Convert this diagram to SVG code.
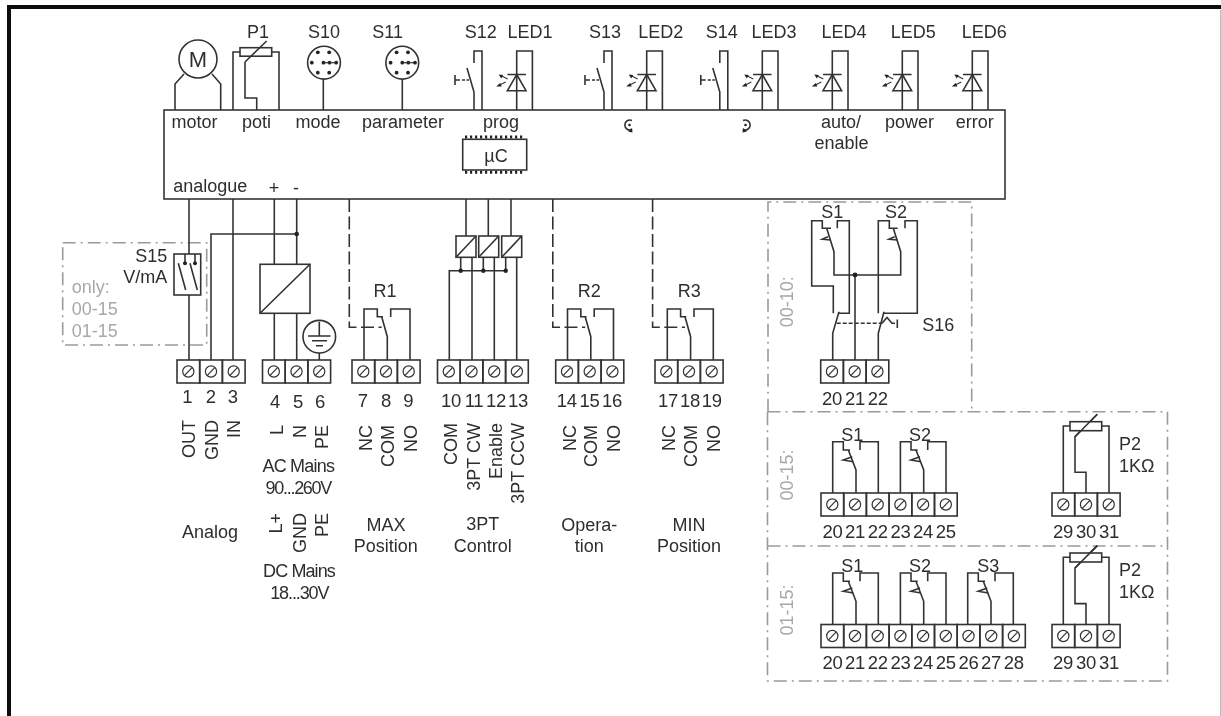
<svg xmlns="http://www.w3.org/2000/svg" width="1221" height="716" viewBox="0 0 1221 716">
<style>
text{font-family:"Liberation Sans",Arial,sans-serif;font-size:18px;fill:#2e2e2e}
.m{text-anchor:middle}
.e{text-anchor:end}
.g{fill:#a8a8a8}
.n{text-anchor:middle;font-size:18.5px;letter-spacing:-.3px}
.w,.w path,.w line,.w rect,.w circle{fill:none;stroke:#333;stroke-width:1.6}
.dd{fill:none;stroke:#9a9a9a;stroke-width:1.6;stroke-dasharray:13 5 2 5}
.ld{fill:none;stroke:#333;stroke-width:1.6;stroke-dasharray:13 4.5}
.sd{fill:none;stroke:#333;stroke-width:1.4;stroke-dasharray:4 2}
.dot{fill:#222;stroke:none}
</style>
<defs>
<filter id="soft" filterUnits="userSpaceOnUse" x="0" y="0" width="1221" height="716"><feGaussianBlur stdDeviation="0.5"/></filter>
<g id="c" class="w"><rect width="22.7" height="23"/><circle cx="11.3" cy="11.5" r="5.6" style="stroke-width:1.2"/><line x1="7.6" y1="15.4" x2="15" y2="7.6" style="stroke-width:1.2"/></g>
<g id="t3"><use href="#c"/><use href="#c" x="22.7"/><use href="#c" x="45.4"/></g>
<g id="t6"><use href="#t3"/><use href="#t3" x="68.1"/></g>
<g id="led" class="w"><path d="M0 110V51H15.7V110"/><path d="M-9.3 74.5H9.3M0 74.5L9.3 90.7H-9.3Z"/><path d="M-9 79L-15 76M-11 82L-17 85" style="stroke-width:1.1"/><path class="dot" d="M-18 74.5L-13.5 75L-15.5 78.5ZM-20.5 86.5L-16.5 83L-15 86.5Z" style="fill:#222;stroke:none"/></g>
<g id="sw" class="w"><path d="M0 110V92L-7 68M8 110V51H0V63"/><path class="sd" d="M-12 80H-5" style="stroke-dasharray:3 1.5"/><path d="M-19 75V85M-19 80H-14"/></g>
<g id="conn" class="w"><circle cx="0" cy="0" r="16.4"/></g>
<g id="pins"><circle r="1.9" cx="-5.7" cy="-10.4" class="dot"/><circle r="1.9" cx="5.7" cy="-10.4" class="dot"/><circle r="1.9" cx="-11.7" class="dot"/><circle r="1.9" class="dot"/><circle r="1.9" cx="6" class="dot"/><circle r="1.9" cx="12.7" class="dot"/><circle r="1.9" cx="-5.7" cy="10" class="dot"/><circle r="1.9" cx="5.7" cy="10" class="dot"/><path d="M0 0H12" stroke="#333" stroke-width="1.2"/></g>
<g id="relay"><path class="ld" d="M349.3 199V327.3H381.7"/><g class="w"><path d="M364 360V309H377.3V316.7H383M381.7 316.7L387.3 336.7V360M410 360V309H390.7V317"/></g></g>
<g id="th" class="w"><path d="M0 493V441.7H10.6V450H17.3M15.6 450L23.3 470V493M27.3 450V441.7H45.6V493"/><path d="M19.6 456.7L10.6 460L20.6 461.7"/></g>
<g id="pot" class="w"><path d="M0 493V426H6.7M45.7 493V426H38.4M22.7 493V472.3H11.7V436.7L34 414.3"/><rect x="6.7" y="421.7" width="31.7" height="9" style="fill:#fff"/><path d="M11.7 436.7L34 414.3"/></g>
</defs>
<rect width="1221" height="716" fill="#fff"/>
<g filter="url(#soft)">
<g id="frame"><path d="M9 716V7H1221" fill="none" stroke="#111" stroke-width="4"/><path d="M1220.5 10V716" fill="none" stroke="#bbb" stroke-width="1"/></g>

<g id="groups">
<rect class="dd" x="62.7" y="242.7" width="144" height="102.3"/>
<path class="dd" d="M768 411.7V202H971.7V411.7"/>
<path class="dd" d="M767.5 411.7H1167.5V681H767.5V411.7"/>
<path class="dd" d="M767.5 546H1167.5"/>
<g class="g"><text class="g" x="71.7" y="293">only:</text><text class="g" x="71.7" y="315">00-15</text><text class="g" x="71.7" y="337">01-15</text>
<text class="g m" transform="translate(793.3,301.7) rotate(-90)">00-10:</text>
<text class="g m" transform="translate(793.3,475) rotate(-90)">00-15:</text>
<text class="g m" transform="translate(793.3,610) rotate(-90)">01-15:</text></g>
</g>

<g id="connectors" class="w">
<path d="M189 199V254M189 295V360M211 360V234H296.7M233 199V360M274.3 199V264.3M296.7 199V264.3M274.3 313.3V360M296.7 313.3V360M319.3 353V360"/>
<path d="M466 199V236M488.3 199V236M511 199V236M460.7 257.3V270.7M483.3 257.3V270.7M505.7 257.3V270.7M449.3 360V270.7H505.7M472 257.3V360M494.3 257.3V360M516.7 257.3V360"/>
<path d="M855 275V360"/>
</g>
<circle class="dot" cx="296.7" cy="234" r="2.3"/>
<circle class="dot" cx="460.7" cy="270.7" r="2.2"/><circle class="dot" cx="483.3" cy="270.7" r="2.2"/><circle class="dot" cx="505.7" cy="270.7" r="2.2"/>

<g id="main"><rect class="w" x="164" y="110" width="841" height="89"/>
<text class="m" x="194.5" y="128">motor</text><text class="m" x="256.5" y="128">poti</text><text class="m" x="318" y="128">mode</text><text class="m" x="403" y="128">parameter</text><text class="m" x="501" y="128">prog</text>
<text class="m" x="841" y="128">auto/</text><text class="m" x="841.5" y="149">enable</text><text class="m" x="909.5" y="128">power</text><text class="m" x="974.8" y="128">error</text>
<text x="173.3" y="191.5">analogue</text><text class="m" x="274" y="194">+</text><text class="m" x="296" y="194">-</text>
<g id="ccw"><path class="w" d="M632 120.5A5 5 0 1 0 632 129.5" style="fill:none"/><circle class="dot" cx="629.5" cy="125" r="1.3"/><path class="dot" d="M628 131.5L632 128L632.5 132.5Z"/></g>
<g id="cw"><path class="w" d="M743 120.5A5 5 0 1 1 743 129.5" style="fill:none"/><circle class="dot" cx="745.5" cy="125" r="1.3"/><path class="dot" d="M747 131.5L743 128L742.5 132.5Z"/></g>
</g>
<g id="uc"><rect class="w" x="462.7" y="139.3" width="64" height="30.7"/><path d="M465 137H525M465 172.3H525" fill="none" stroke="#222" stroke-width="3" stroke-dasharray="2.2 2.8"/><text class="m" x="496" y="162">µC</text></g>

<g id="motor"><circle class="w" cx="198" cy="59" r="19"/><path class="w" d="M175 110V84L184 74M220.7 110V84L212 74"/><text class="m" x="198" y="67" style="font-size:22px">M</text></g>
<g id="P1" class="w"><path d="M233 110V52H240M279 110V52H271.7M256.7 110V98H245V62"/><rect x="240" y="47.7" width="31.7" height="8.5"/><path d="M245 62L266.7 41"/></g><text class="m" x="258" y="37.6">P1</text>
<g id="S10"><use href="#conn" x="324" y="62.7"/><path class="w" d="M323.3 79V110"/><use href="#pins" x="323.5" y="62.7"/><text class="m" x="324" y="37.6">S10</text></g>
<g id="S11"><use href="#conn" x="402.3" y="62.7"/><path class="w" d="M402.3 79V110"/><use href="#pins" x="402.3" y="62.7"/><text class="m" x="387.7" y="37.6">S11</text></g>
<g id="S12"><use href="#sw" x="474"/><text class="m" x="480.7" y="37.6">S12</text></g>
<g id="LED1"><use href="#led" x="516.7"/><text class="m" x="530" y="37.6">LED1</text></g>
<g id="S13"><use href="#sw" x="604"/><text class="m" x="605" y="37.6">S13</text></g>
<g id="LED2"><use href="#led" x="646.7"/><text class="m" x="660.7" y="37.6">LED2</text></g>
<g id="S14"><use href="#sw" x="719.8"/><text class="m" x="721.7" y="37.6">S14</text></g>
<g id="LED3"><use href="#led" x="762.3"/><text class="m" x="774" y="37.6">LED3</text></g>
<g id="LED4"><use href="#led" x="832.3"/><text class="m" x="844" y="37.6">LED4</text></g>
<g id="LED5"><use href="#led" x="902.3"/><text class="m" x="913.3" y="37.6">LED5</text></g>
<g id="LED6"><use href="#led" x="972.3"/><text class="m" x="984.3" y="37.6">LED6</text></g>

<g id="S15"><rect class="w" x="174" y="254" width="26.7" height="41"/><path class="w" d="M185 254V263M195 254V263M178.3 263.3L185.7 290M190 263.3L197.3 290"/><circle class="dot" cx="185" cy="263.3" r="2"/><circle class="dot" cx="195" cy="263.3" r="2"/><text class="e" x="167.3" y="261.7">S15</text><text class="e" x="167.3" y="283">V/mA</text></g>
<g id="psu" class="w"><rect x="260" y="264.3" width="50" height="49"/><path d="M310 264.3L260 313.3"/></g>
<g id="earth"><circle class="w" cx="319.3" cy="336.7" r="16.3"/><path class="w" d="M319.3 321.7V336M308 336H330.5M312 340.7H327M316 345.7H323"/></g>

<g id="T1-3"><use href="#t3" x="177" y="360"/><text class="n" x="187.3" y="403">1</text><text class="n" x="210.7" y="403">2</text><text class="n" x="232.7" y="403">3</text>
<text class="e" transform="translate(195,420) rotate(-90)">OUT</text><text class="e" transform="translate(218,420) rotate(-90)">GND</text><text class="e" transform="translate(240,420) rotate(-90)">IN</text><text class="m" x="210" y="537.7">Analog</text></g>
<g id="T4-6"><use href="#t3" x="262.5" y="360"/><text class="n" x="275" y="407.5">4</text><text class="n" x="298" y="407.5">5</text><text class="n" x="320" y="407.5">6</text>
<text class="e" transform="translate(282.7,425) rotate(-90)">L</text><text class="e" transform="translate(306,425) rotate(-90)">N</text><text class="e" transform="translate(328.3,425) rotate(-90)">PE</text>
<text class="m" x="298.3" y="472" style="letter-spacing:-.8px">AC Mains</text><text class="m" x="298.3" y="494" style="letter-spacing:-1.3px">90...260V</text>
<text class="e" transform="translate(281.7,513) rotate(-90)">L+</text><text class="e" transform="translate(305.7,513) rotate(-90)">GND</text><text class="e" transform="translate(328.3,513) rotate(-90)">PE</text>
<text class="m" x="299" y="576.7" style="letter-spacing:-.9px">DC Mains</text><text class="m" x="299.3" y="599" style="letter-spacing:-1.1px">18...30V</text></g>

<g id="T7-9"><use href="#relay"/><text class="m" x="385" y="296.7">R1</text><use href="#t3" x="352" y="360"/><text class="n" x="362.7" y="407">7</text><text class="n" x="386" y="407">8</text><text class="n" x="408.3" y="407">9</text>
<text class="e" transform="translate(371.7,425) rotate(-90)">NC</text><text class="e" transform="translate(394,425) rotate(-90)">COM</text><text class="e" transform="translate(416.7,425) rotate(-90)">NO</text>
<text class="m" x="386" y="531">MAX</text><text class="m" x="385.7" y="551.7">Position</text></g>

<g id="T10-13"><use href="#c" x="437.5" y="360"/><use href="#t3" x="460.2" y="360"/>
<g class="w" style="fill:#fff"><rect x="456" y="236" width="20" height="21.3"/><path d="M476 236L456 257.3"/><rect x="478.7" y="236" width="20" height="21.3"/><path d="M498.7 236L478.7 257.3"/><rect x="501.7" y="236" width="20" height="21.3"/><path d="M521.7 236L501.7 257.3"/></g>
<text class="n" x="451" y="406.7">10</text><text class="n" x="474" y="406.7">11</text><text class="n" x="496" y="406.7">12</text><text class="n" x="518" y="406.7">13</text>
<text class="e" transform="translate(456.7,423) rotate(-90)">COM</text><text class="e" transform="translate(480,423) rotate(-90)">3PT CW</text><text class="e" transform="translate(502.3,423) rotate(-90)">Enable</text><text class="e" transform="translate(524.3,423) rotate(-90)">3PT CCW</text>
<text class="m" x="482.7" y="530">3PT</text><text class="m" x="482.7" y="551.7">Control</text></g>

<g id="T14-16"><use href="#relay" x="203.5"/><text class="m" x="589.3" y="296.7">R2</text><use href="#t3" x="555.7" y="360"/><text class="n" x="566.7" y="407">14</text><text class="n" x="589.5" y="407">15</text><text class="n" x="612" y="407">16</text>
<text class="e" transform="translate(575.7,425) rotate(-90)">NC</text><text class="e" transform="translate(597.3,425) rotate(-90)">COM</text><text class="e" transform="translate(620,425) rotate(-90)">NO</text>
<text class="m" x="589.3" y="531">Opera-</text><text class="m" x="589.3" y="552">tion</text></g>

<g id="T17-19"><use href="#relay" x="303.3"/><text class="m" x="689.3" y="296.7">R3</text><use href="#t3" x="655" y="360"/><text class="n" x="668" y="407">17</text><text class="n" x="690" y="407">18</text><text class="n" x="711.7" y="407">19</text>
<text class="e" transform="translate(675,425) rotate(-90)">NC</text><text class="e" transform="translate(697.3,425) rotate(-90)">COM</text><text class="e" transform="translate(720,425) rotate(-90)">NO</text>
<text class="m" x="689" y="531">MIN</text><text class="m" x="689" y="551.7">Position</text></g>

<g id="opt-00-10"><use href="#t3" x="820.7" y="360"/>
<g class="w"><path d="M833.3 313.3V286H811.7V220.7H822.3V228.3H831M826.7 228.3L834 251.7V275H900.7V251.7L893.3 228.3M837.3 228.3V220.7H849.3V313.3H838.3"/><path d="M878.3 313.3V220.7H889.3V228.3H897.7M905 228.3V220.7H917.3V313.3H883"/><path d="M832.7 360V333.3L839 311.7M878.3 360V333.3L884 311.7"/><path d="M828 236.7L822.3 239.3L830.7 240M894.7 236.7L889 239.3L897.4 240"/><path d="M882 323.3L887 317.5L892 323.3H895M897.3 319.5V328"/></g>
<path class="sd" d="M836.7 323.3H882"/><circle class="dot" cx="855" cy="275" r="2.4"/>
<text class="m" x="832.3" y="217.7">S1</text><text class="m" x="896" y="217.7">S2</text><text x="922.3" y="331">S16</text>
<text class="n" x="832" y="405">20</text><text class="n" x="855" y="405">21</text><text class="n" x="877.7" y="405">22</text></g>

<g id="opt-00-15"><use href="#t6" x="821" y="493"/><use href="#th" x="832.7"/><use href="#th" x="900.4"/>
<text class="m" x="852.3" y="440.7">S1</text><text class="m" x="920" y="440.7">S2</text>
<text class="n" x="832.4" y="538.3">20</text><text class="n" x="855" y="538.3">21</text><text class="n" x="877.7" y="538.3">22</text><text class="n" x="900.4" y="538.3">23</text><text class="n" x="923" y="538.3">24</text><text class="n" x="945.7" y="538.3">25</text>
<use href="#t3" x="1052" y="493"/><use href="#pot" x="1063.3"/><text x="1119" y="450">P2</text><text x="1119" y="472.3">1KΩ</text>
<text class="n" x="1063" y="538.3">29</text><text class="n" x="1086" y="538.3">30</text><text class="n" x="1109" y="538.3">31</text></g>

<g id="opt-01-15"><use href="#t6" x="821" y="624.5"/><use href="#t3" x="957.2" y="624.5"/><g transform="translate(0,131.3)"><use href="#th" x="832.7"/><use href="#th" x="900.4"/><use href="#th" x="967.7"/></g>
<text class="m" x="852.3" y="571.7">S1</text><text class="m" x="920" y="571.7">S2</text><text class="m" x="988.3" y="571.7">S3</text>
<text class="n" x="832.4" y="669.3">20</text><text class="n" x="855" y="669.3">21</text><text class="n" x="877.7" y="669.3">22</text><text class="n" x="900.4" y="669.3">23</text><text class="n" x="923" y="669.3">24</text><text class="n" x="945.7" y="669.3">25</text><text class="n" x="968.4" y="669.3">26</text><text class="n" x="991" y="669.3">27</text><text class="n" x="1013.7" y="669.3">28</text>
<use href="#t3" x="1052" y="624.5"/><g transform="translate(1063.3,131.3)"><use href="#pot"/></g><text x="1119" y="576">P2</text><text x="1119" y="597.7">1KΩ</text>
<text class="n" x="1063" y="669.3">29</text><text class="n" x="1086" y="669.3">30</text><text class="n" x="1109" y="669.3">31</text></g>
</g>
</svg>
